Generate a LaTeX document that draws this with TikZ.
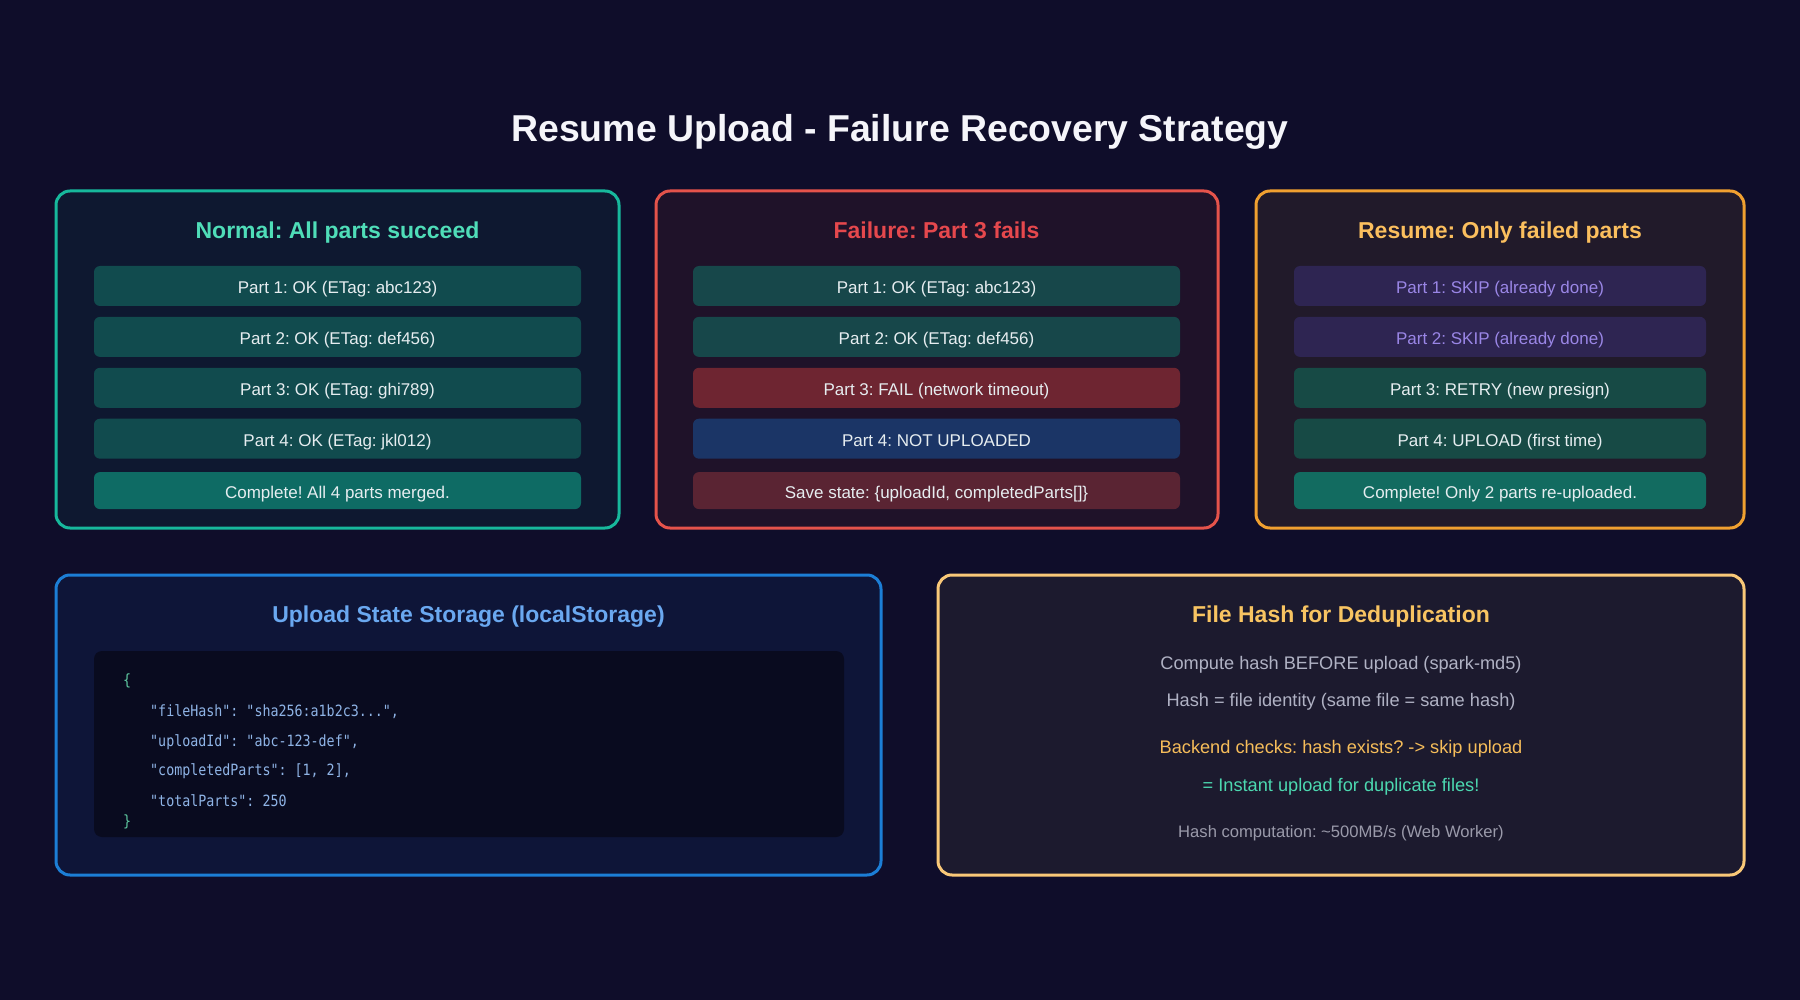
\documentclass[tikz,border=0pt]{standalone}
\usepackage{fontspec}
\setmainfont{Liberation Sans}
\newfontfamily\codefont[FakeStretch=0.86]{DejaVu Sans Mono}
\usetikzlibrary{positioning}
\frenchspacing
\definecolor{pagebg}{HTML}{0F0D2A}
\definecolor{titletxt}{HTML}{F5F5FA}
\definecolor{rowtxt}{HTML}{E6EDF0}
\definecolor{okline}{HTML}{17B89C}
\definecolor{okpanel}{HTML}{0E1830}
\definecolor{okhead}{HTML}{4FDDB8}
\definecolor{okrow}{HTML}{114B4E}
\definecolor{okdone}{HTML}{0E6B64}
\definecolor{failline}{HTML}{E5534B}
\definecolor{failpanel}{HTML}{1F1229}
\definecolor{failhead}{HTML}{E5484D}
\definecolor{failok}{HTML}{17474A}
\definecolor{failrow}{HTML}{6E2531}
\definecolor{notrow}{HTML}{1B3566}
\definecolor{saverow}{HTML}{5A2433}
\definecolor{resline}{HTML}{F0A030}
\definecolor{respanel}{HTML}{211A2A}
\definecolor{reshead}{HTML}{FBBF5E}
\definecolor{skiprow}{HTML}{2E2552}
\definecolor{skiptxt}{HTML}{9A86E6}
\definecolor{resrow}{HTML}{174A45}
\definecolor{resdone}{HTML}{126B60}
\definecolor{stline}{HTML}{1C7ED6}
\definecolor{stpanel}{HTML}{0E1538}
\definecolor{sthead}{HTML}{6AA8F0}
\definecolor{codebg}{HTML}{090B1F}
\definecolor{codetxt}{HTML}{8FB4E6}
\definecolor{codebrace}{HTML}{5EC8A0}
\definecolor{hashline}{HTML}{F9C878}
\definecolor{hashpanel}{HTML}{1C1A2E}
\definecolor{hashhead}{HTML}{F8C462}
\definecolor{hashgray}{HTML}{B0B2C4}
\definecolor{hashamber}{HTML}{F6BD5A}
\definecolor{hashgreen}{HTML}{4CD8B0}
\definecolor{hashsmall}{HTML}{9A9AAA}

\begin{document}
\begin{tikzpicture}[
    x=1pt, y=-1pt,
    node distance=10.5pt,
    panel/.style={draw, line width=3pt, rounded corners=14pt, inner sep=0pt},
    head/.style={text height=17pt, text depth=4.8pt, font=\fontsize{23}{27}\selectfont\bfseries},
    row/.style={rounded corners=6pt, minimum height=40pt, inner sep=0pt, text height=15.4pt, text depth=0pt, text=rowtxt, font=\fontsize{17}{20}\selectfont},
    wrow/.style={row, minimum width=487pt},
    nrow/.style={row, minimum width=412pt},
    code/.style={anchor=west, inner sep=0pt, text=codetxt, font=\codefont\fontsize{15.5}{18}\selectfont},
    note/.style={font=\fontsize{18.2}{22}\selectfont, text=hashgray},
]
    \fill[pagebg] (0,0) rectangle (1800,1000);

    \node[font=\fontsize{37.4}{44}\selectfont\bfseries, text=titletxt] (title) at (900,132) {Resume Upload - Failure Recovery Strategy};

    % Normal case (left)
    \node[panel, draw=okline, fill=okpanel, minimum width=563pt, minimum height=337pt] (normal) at (337.5,359.5) {};
    \node[head, text=okhead] (normalhd) at (337.5,232.5) {Normal: All parts succeed};
    \node[wrow, fill=okrow] (n1) at (337.5,286) {Part 1: OK (ETag: abc123)};
    \node[wrow, fill=okrow, below=of n1] (n2) {Part 2: OK (ETag: def456)};
    \node[wrow, fill=okrow, below=of n2] (n3) {Part 3: OK (ETag: ghi789)};
    \node[wrow, fill=okrow, below=of n3] (n4) {Part 4: OK (ETag: jkl012)};
    \node[wrow, fill=okdone, minimum height=37pt, below=13pt of n4] (n5) {Complete! All 4 parts merged.};

    % Failure case (middle)
    \node[panel, draw=failline, fill=failpanel, minimum width=562pt, minimum height=337pt] (failure) at (937,359.5) {};
    \node[head, text=failhead] (failurehd) at (936.5,232.5) {Failure: Part 3 fails};
    \node[wrow, fill=failok] (f1) at (936.5,286) {Part 1: OK (ETag: abc123)};
    \node[wrow, fill=failok, below=of f1] (f2) {Part 2: OK (ETag: def456)};
    \node[wrow, fill=failrow, below=of f2] (f3) {Part 3: FAIL (network timeout)};
    \node[wrow, fill=notrow, below=of f3] (f4) {Part 4: NOT UPLOADED};
    \node[wrow, fill=saverow, minimum height=37pt, below=13pt of f4] (f5) {Save state: \{uploadId, completedParts[]\}};

    % Resume case (right)
    \node[panel, draw=resline, fill=respanel, minimum width=488pt, minimum height=337pt] (resume) at (1500,359.5) {};
    \node[head, text=reshead] (resumehd) at (1500,232.5) {Resume: Only failed parts};
    \node[nrow, fill=skiprow, text=skiptxt] (r1) at (1500,286) {Part 1: SKIP (already done)};
    \node[nrow, fill=skiprow, text=skiptxt, below=of r1] (r2) {Part 2: SKIP (already done)};
    \node[nrow, fill=resrow, below=of r2] (r3) {Part 3: RETRY (new presign)};
    \node[nrow, fill=resrow, below=of r3] (r4) {Part 4: UPLOAD (first time)};
    \node[nrow, fill=resdone, minimum height=37pt, below=13pt of r4] (r5) {Complete! Only 2 parts re-uploaded.};

    % State storage (bottom left)
    \node[panel, draw=stline, fill=stpanel, minimum width=825pt, minimum height=300pt] (storage) at (468.5,725) {};
    \node[head, text=sthead] (storagehd) at (468.5,616.5) {Upload State Storage (localStorage)};
    \node[fill=codebg, rounded corners=8pt, minimum width=750pt, minimum height=186pt, inner sep=0pt] (codebox) at (469,744) {};
    \node[code, text=codebrace] (c0) at (123,681) {\{};
    \node[code] (c1) at (150,712) {"fileHash": "sha256:a1b2c3...",};
    \node[code] (c2) at (150,742) {"uploadId": "abc-123-def",};
    \node[code] (c3) at (150,771) {"completedParts": [1, 2],};
    \node[code] (c4) at (150,801) {"totalParts": 250};
    \node[code, text=codebrace] (c5) at (123,822) {\}};

    % File hash (bottom right)
    \node[panel, draw=hashline, fill=hashpanel, minimum width=806pt, minimum height=300pt] (hash) at (1341,725) {};
    \node[head, text=hashhead] (hashhd) at (1341,616.5) {File Hash for Deduplication};
    \node[note] (h1) at (1341,664.5) {Compute hash BEFORE upload (spark-md5)};
    \node[note] (h2) at (1341,701.5) {Hash = file identity (same file = same hash)};
    \node[note, text=hashamber] (h3) at (1341,748.5) {Backend checks: hash exists? -> skip upload};
    \node[note, text=hashgreen] (h4) at (1341,786.5) {= Instant upload for duplicate files!};
    \node[note, text=hashsmall, font=\fontsize{16.6}{20}\selectfont] (h5) at (1341,833.5) {Hash computation: \textasciitilde500MB/s (Web Worker)};
\end{tikzpicture}
\end{document}
